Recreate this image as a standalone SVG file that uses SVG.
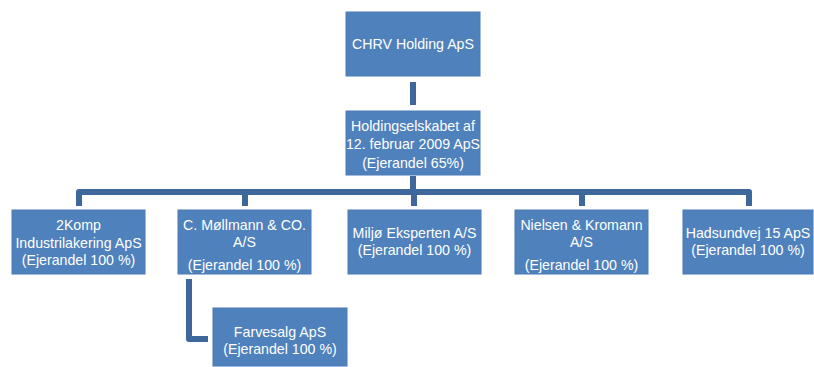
<svg xmlns="http://www.w3.org/2000/svg" width="814" height="367" viewBox="0 0 814 367">
<style>
.box{fill:#4F81BD;stroke:#4A7AB5;stroke-width:1}
.t{font-family:"Liberation Sans",Arial,sans-serif;font-size:14.2px;fill:#FFFFFF;text-anchor:middle}
.c{fill:none;stroke:#3E679B;stroke-width:6}
</style>
<g id="connectors">
<path class="c" d="M413 82 V105"/>
<path class="c" d="M413 176 V192"/>
<path class="c" d="M79 206 V192 H749 V206" stroke-linejoin="round"/>
<path class="c" d="M245 192 V206"/>
<path class="c" d="M414 192 V206"/>
<path class="c" d="M582 192 V206"/>
<path class="c" d="M189 279 V339 H208" stroke-linejoin="round"/>
</g>
<g id="chrv"><rect class="box" x="346" y="12" width="134" height="64"/>
<text class="t" x="413" y="49">CHRV Holding ApS</text></g>
<g id="holding"><rect class="box" x="346" y="111" width="134" height="64"/>
<text class="t" x="413" y="131">Holdingselskabet af</text>
<text class="t" x="413" y="149">12. februar 2009 ApS</text>
<text class="t" x="413" y="168">(Ejerandel 65%)</text></g>
<g id="komp"><rect class="box" x="12" y="210" width="133" height="64"/>
<text class="t" x="78.5" y="230">2Komp</text>
<text class="t" x="78.5" y="248">Industrilakering ApS</text>
<text class="t" x="78.5" y="265">(Ejerandel 100 %)</text></g>
<g id="moellmann"><rect class="box" x="178" y="210" width="133" height="64"/>
<text class="t" x="244.5" y="230">C. Møllmann &amp; CO.</text>
<text class="t" x="244.5" y="247">A/S</text>
<text class="t" x="244.5" y="270">(Ejerandel 100 %)</text></g>
<g id="miljoe"><rect class="box" x="348" y="210" width="133" height="64"/>
<text class="t" x="414.5" y="238">Miljø Eksperten A/S</text>
<text class="t" x="414.5" y="255">(Ejerandel 100 %)</text></g>
<g id="nielsen"><rect class="box" x="515" y="210" width="133" height="64"/>
<text class="t" x="581.5" y="230">Nielsen &amp; Kromann</text>
<text class="t" x="581.5" y="247">A/S</text>
<text class="t" x="581.5" y="270">(Ejerandel 100 %)</text></g>
<g id="hadsundvej"><rect class="box" x="683" y="210" width="130" height="64"/>
<text class="t" x="748" y="238">Hadsundvej 15 ApS</text>
<text class="t" x="748" y="255">(Ejerandel 100 %)</text></g>
<g id="farvesalg"><rect class="box" x="213" y="308" width="134" height="58"/>
<text class="t" x="280" y="337">Farvesalg ApS</text>
<text class="t" x="280" y="354">(Ejerandel 100 %)</text></g>
</svg>
